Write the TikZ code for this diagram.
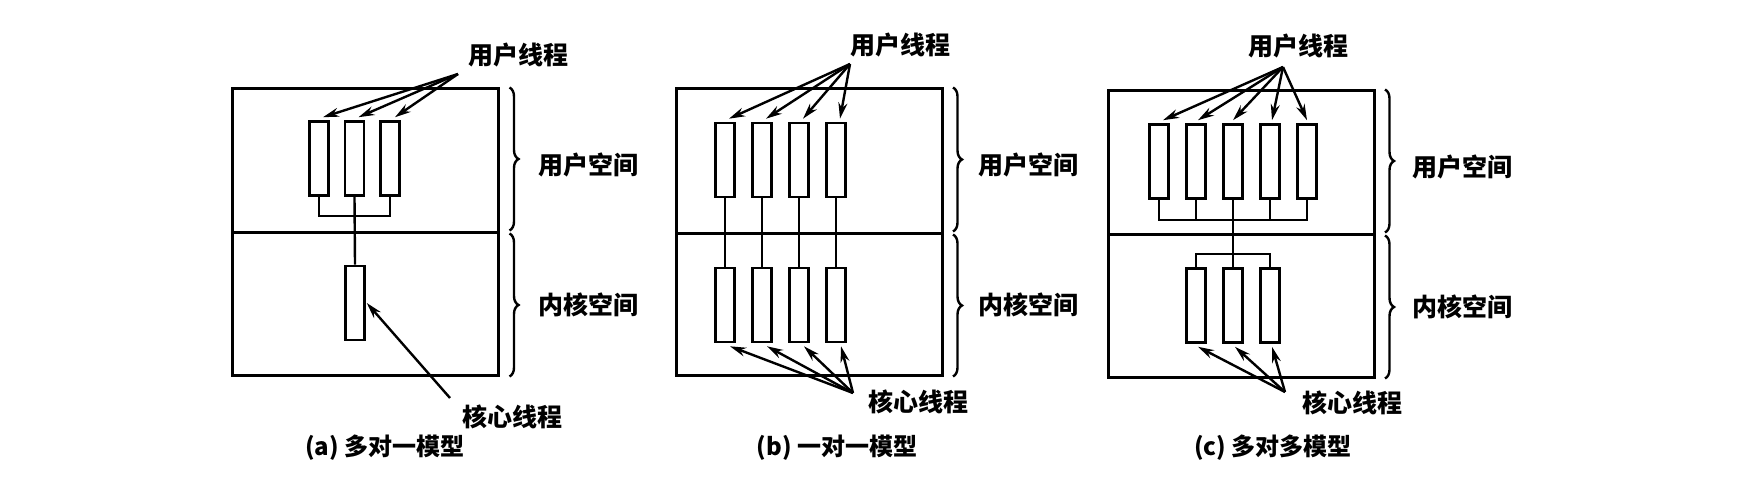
\documentclass[tikz,border=0pt]{standalone}
\usepackage{fontspec}
\setmainfont{Noto Sans CJK SC}
\usetikzlibrary{arrows.meta,decorations.pathreplacing,calc}
\begin{document}
\begin{tikzpicture}[x=1pt,y=-1pt,
  region/.style={draw,line width=3pt,inner sep=0pt,minimum width=266pt},
  thr/.style={draw,line width=2.6pt,inner sep=0pt,minimum width=19pt,minimum height=74pt,fill=white},
  conn/.style={line width=2.4pt},
  arr/.style={line width=2.4pt,-{Stealth[length=16pt,width=9pt]}},
  lbl/.style={font=\fontsize{25}{30}\selectfont\bfseries,inner sep=0pt},
  captxt/.style={font=\fontsize{24}{28}\selectfont\bfseries,inner sep=0pt},
  brc/.style={line width=2.4pt,decorate,decoration={brace,amplitude=9pt}}]
\useasboundingbox[fill=white] (0,0) rectangle (1758,484);

% ---------------- (a) many-to-one ----------------
\node[region,minimum height=143pt] (a-us) at (365,160.5) {};
\node[region,minimum height=143pt] (a-ks) at (365,303.5) {};
\node[thr] (a-u1) at (319,158.5) {};
\node[thr] (a-u2) at (354.5,158.5) {};
\node[thr] (a-u3) at (390,158.5) {};
\node[thr] (a-k) at (355,303) {};
\draw[conn] (a-u1.south) -- ++(0,19) -| (a-u3.south);
\draw[conn] (a-u2.south) -- (a-k.north);
\node[lbl] (a-ut) at (518,55) {用户线程};
\coordinate (a-usrc) at (458,74);
\draw[arr] (a-usrc) -- ([xshift=4pt,yshift=3pt]a-u1.north);
\draw[arr] (a-usrc) -- ([xshift=4pt,yshift=3pt]a-u2.north);
\draw[arr] (a-usrc) -- ([xshift=5pt,yshift=3pt]a-u3.north);
\node[lbl] (a-kt) at (512,417) {核心线程};
\coordinate (a-ksrc) at (450,398);
\draw[arr] (a-ksrc) -- ([xshift=1pt]a-k.east);
\draw[brc] ($(a-us.north east)+(10,0)$) -- ($(a-us.south east)+(10,-3)$);
\draw[brc] ($(a-ks.north east)+(10,3)$) -- ($(a-ks.south east)+(10,0)$);
\node[lbl] (a-usl) at (588,165) {用户空间};
\node[lbl] (a-ksl) at (588,305) {内核空间};
\node[captxt] (a-cap) at (385,448) {(a) 多对一模型};

% ---------------- (b) one-to-one ----------------
\node[region,minimum height=144pt] (b-us) at (809.5,161) {};
\node[region,minimum height=142pt] (b-ks) at (809.5,304) {};
\foreach \i/\x in {1/725,2/762,3/799,4/836}{
  \node[thr] (b-u\i) at (\x,160) {};
  \node[thr] (b-k\i) at (\x,305) {};
  \draw[conn] (b-u\i.south) -- (b-k\i.north);
}
\node[lbl] (b-ut) at (900,45) {用户线程};
\coordinate (b-usrc) at (850,64);
\foreach \i in {1,2,3,4}{
  \draw[arr] (b-usrc) -- ([xshift=4pt,yshift=3pt]b-u\i.north);
}
\node[lbl] (b-kt) at (918,402) {核心线程};
\coordinate (b-ksrc) at (853,393);
\foreach \i in {1,2,3,4}{
  \draw[arr] (b-ksrc) -- ([xshift=5pt,yshift=-3pt]b-k\i.south);
}
\draw[brc] ($(b-us.north east)+(9,0)$) -- ($(b-us.south east)+(9,-3)$);
\draw[brc] ($(b-ks.north east)+(9,3)$) -- ($(b-ks.south east)+(9,0)$);
\node[lbl] (b-usl) at (1028,165) {用户空间};
\node[lbl] (b-ksl) at (1028,305) {内核空间};
\node[captxt] (b-cap) at (837,448) {(b) 一对一模型};

% ---------------- (c) many-to-many ----------------
\node[region,minimum height=143pt] (c-us) at (1241.5,162.5) {};
\node[region,minimum height=143pt] (c-ks) at (1241.5,305.5) {};
\foreach \i/\x in {1/1159,2/1196,3/1233,4/1270,5/1307}{
  \node[thr] (c-u\i) at (\x,161.5) {};
}
\foreach \i/\x in {1/1196,2/1233,3/1270}{
  \node[thr] (c-k\i) at (\x,305.5) {};
}
\draw[conn] (c-u1.south) -- ++(0,20) -| (c-u5.south);
\foreach \i in {2,4}{ \draw[conn] (c-u\i.south) -- ++(0,20); }
\draw[conn] (c-u3.south) -- (c-k2.north);
\draw[conn] (c-k1.north) -- ++(0,-13) -| (c-k3.north);
\node[lbl] (c-ut) at (1298,46) {用户线程};
\coordinate (c-usrc) at (1283,67);
\draw[arr] (c-usrc) -- ([xshift=4pt,yshift=3pt]c-u1.north);
\draw[arr] (c-usrc) -- ([xshift=2pt,yshift=3pt]c-u2.north);
\draw[arr] (c-usrc) -- ([yshift=3pt]c-u3.north);
\draw[arr] (c-usrc) -- ([xshift=2pt,yshift=3pt]c-u4.north);
\draw[arr] (c-usrc) -- ([xshift=0pt,yshift=3pt]c-u5.north);
\node[lbl] (c-kt) at (1352,403) {核心线程};
\coordinate (c-ksrc) at (1285,392);
\foreach \i in {1,2,3}{
  \draw[arr] (c-ksrc) -- ([xshift=2pt,yshift=-3pt]c-k\i.south);
}
\draw[brc] ($(c-us.north east)+(9,0)$) -- ($(c-us.south east)+(9,-3)$);
\draw[brc] ($(c-ks.north east)+(9,3)$) -- ($(c-ks.south east)+(9,0)$);
\node[lbl] (c-usl) at (1462,167) {用户空间};
\node[lbl] (c-ksl) at (1462,307) {内核空间};
\node[captxt] (c-cap) at (1273,448) {(c) 多对多模型};
\end{tikzpicture}
\end{document}
